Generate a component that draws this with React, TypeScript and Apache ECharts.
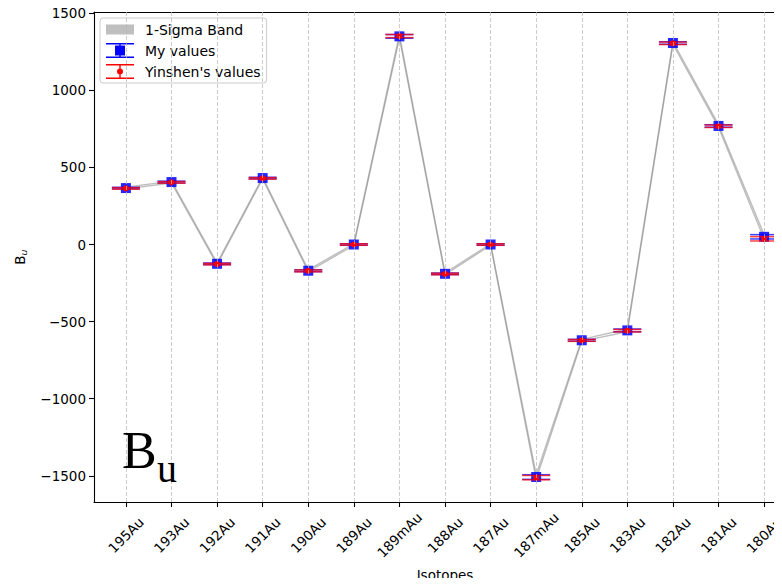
import React, { useEffect, useRef } from "react";
import * as echarts from "echarts";

const categories = [
  "195Au", "193Au", "192Au", "191Au", "190Au", "189Au", "189mAu", "188Au",
  "187Au", "187mAu", "185Au", "183Au", "182Au", "181Au", "180Au",
];
const myValues = [366, 405, -125, 431, -170, 0, 1350, -190, 0, -1508, -621, -557, 1307, 769, 50];
const myErrors = [5, 6, 5, 5, 6, 5, 12, 5, 5, 15, 6, 9, 8, 8, 14];
const yinValues = [364, 403, -127, 429, -171, 0, 1352, -191, 0, -1512, -622, -559, 1305, 767, 37];
const yinErrors = [5, 5, 5, 5, 6, 5, 10, 5, 5, 14, 6, 8, 8, 8, 14];
const yTicks = [-1500, -1000, -500, 0, 500, 1000, 1500];
const xTicks = categories.map((_, i) => i);

const FONT = "DejaVu Sans";
const FS = 13.5;

const bandIcon = "path://M0,0L0,0ZM28,15L28,15ZM0,2.5H28V12.5H0Z";
const myIcon =
  "path://M0,0H28V1.5H0ZM0,13.5H28V15H0ZM13.3,0H14.7V15H13.3ZM9,2.5H19V12.5H9Z";
const yinIcon =
  "path://M0,0H28V1.5H0ZM0,13.5H28V15H0ZM13.3,0H14.7V15H13.3ZM17,7.5A3,3 0 1 1 11,7.5A3,3 0 1 1 17,7.5Z";

function errorRenderer(kind: "square" | "circle", color: string, alpha: number) {
  return (params: any, api: any) => {
    const x = api.value(0);
    const y = api.value(1);
    const e = api.value(2);
    const c = api.coord([x, y]);
    const hi = api.coord([x, y + e]);
    const lo = api.coord([x, y - e]);
    const hw = 14;
    const ls = { stroke: color, lineWidth: 1.5, opacity: alpha };
    const marker =
      kind === "square"
        ? { type: "rect", shape: { x: c[0] - 5, y: c[1] - 5, width: 10, height: 10 }, style: { fill: color, opacity: 0.85 } }
        : { type: "circle", shape: { cx: c[0], cy: c[1], r: 3 }, style: { fill: color } };
    return {
      type: "group",
      children: [
        { type: "line", shape: { x1: c[0], y1: hi[1], x2: c[0], y2: lo[1] }, style: ls },
        { type: "line", shape: { x1: c[0] - hw, y1: hi[1], x2: c[0] + hw, y2: hi[1] }, style: ls },
        { type: "line", shape: { x1: c[0] - hw, y1: lo[1], x2: c[0] + hw, y2: lo[1] }, style: ls },
        marker,
      ],
    };
  };
}

export default function App() {
  const ref = useRef<HTMLDivElement>(null);
  useEffect(() => {
    if (!ref.current) return;
    const chart = echarts.init(ref.current, null, { renderer: "svg" });
    const bandLineStyle = { color: "#808080", width: 1.4, opacity: 0.5 };
    chart.setOption({
      animation: false,
      backgroundColor: "#ffffff",
      grid: { left: 94, top: 12, right: -14, bottom: 84, containLabel: false, outerBoundsMode: "none" },
      legend: {
        left: 100,
        top: 18,
        orient: "vertical",
        padding: [4, 6, 4, 6],
        itemGap: 6,
        itemWidth: 28,
        itemHeight: 15,
        borderColor: "#cccccc",
        borderWidth: 1,
        borderRadius: 3,
        backgroundColor: "rgba(255,255,255,0.85)",
        textStyle: { fontFamily: FONT, fontSize: 14, color: "#000", padding: [0, 0, 0, 6] },
        data: [
          { name: "1-Sigma Band", icon: bandIcon, itemStyle: { color: "#bfbfbf", borderWidth: 0 } },
          { name: "My values", icon: myIcon, itemStyle: { color: "#0000ff", borderWidth: 0 } },
          { name: "Yinshen's values", icon: yinIcon, itemStyle: { color: "#ff0000", borderWidth: 0 } },
        ],
      },
      xAxis: [
        {
          type: "value",
          min: -0.7,
          max: 14.7,
          name: "Isotopes",
          nameLocation: "middle",
          nameGap: 66,
          nameTextStyle: { fontFamily: FONT, fontSize: FS, color: "#000" },
          axisLine: { show: true, onZero: false, lineStyle: { color: "#000", width: 1.1 } },
          axisTick: { show: true, length: 5, customValues: xTicks, lineStyle: { color: "#000", width: 1.1 } },
          axisLabel: {
            customValues: xTicks,
            formatter: (v: number) => categories[Math.round(v)] ?? "",
            rotate: 45,
            align: "center",
            verticalAlign: "middle",
            margin: 33,
            fontFamily: FONT,
            fontSize: FS,
            color: "#000",
          },
          splitLine: { show: false },
        },
        {
          type: "value",
          position: "top",
          min: -0.7,
          max: 14.7,
          axisLine: { show: true, onZero: false, lineStyle: { color: "#000", width: 1.1 } },
          axisTick: { show: false },
          axisLabel: { show: false },
          splitLine: { show: false },
        },
      ],
      yAxis: {
        type: "value",
        min: -1670,
        max: 1508,
        name: "{a|B}{b|u}",
        nameLocation: "middle",
        nameRotate: 90,
        nameGap: 66,
        nameTextStyle: {
          color: "#000",
          rich: {
            a: { fontFamily: FONT, fontSize: FS, color: "#000" },
            b: { fontFamily: FONT, fontSize: 9.5, color: "#000", fontStyle: "italic", padding: [7, 0, 0, 0] },
          },
        },
        axisLine: { show: true, onZero: false, lineStyle: { color: "#000", width: 1.1 } },
        axisTick: { show: true, length: 5, customValues: yTicks, lineStyle: { color: "#000", width: 1.1 } },
        axisLabel: {
          customValues: yTicks,
          formatter: (v: number) => (v < 0 ? "\u2212" + Math.abs(v) : String(v)),
          fontFamily: FONT,
          fontSize: FS,
          color: "#000",
          margin: 8,
        },
        splitLine: { show: false },
      },
      graphic: [
        {
          type: "text",
          left: 122,
          top: 424,
          z: 10,
          style: { text: "B", font: "52px 'Liberation Serif'", fill: "#000" },
        },
        {
          type: "text",
          left: 157,
          top: 448,
          z: 10,
          style: { text: "u", font: "40px 'Liberation Serif'", fill: "#000" },
        },
      ],
      series: [
        {
          name: "1-Sigma Band",
          type: "line",
          symbol: "none",
          z: 1,
          data: myValues.map((v, i) => [i, v - myErrors[i]]),
          lineStyle: bandLineStyle,
          itemStyle: { color: "#bfbfbf" },
          markLine: {
            silent: true,
            symbol: ["none", "none"],
            label: { show: false },
            lineStyle: { color: "#b8b8b8", type: [4, 2], width: 0.9, opacity: 0.8 },
            data: categories.map((_, i) => ({ xAxis: i })),
          },
        },
        {
          name: "1-Sigma Band",
          type: "line",
          symbol: "none",
          z: 1,
          data: myValues.map((v, i) => [i, v + myErrors[i]]),
          lineStyle: bandLineStyle,
          itemStyle: { color: "#bfbfbf" },
        },
        {
          name: "My values",
          type: "custom",
          z: 3,
          itemStyle: { color: "#0000ff" },
          encode: { x: 0, y: 1 },
          data: myValues.map((v, i) => [i, v, myErrors[i]]),
          renderItem: errorRenderer("square", "#0000ff", 0.75),
        },
        {
          name: "Yinshen's values",
          type: "custom",
          z: 4,
          itemStyle: { color: "#ff0000" },
          encode: { x: 0, y: 1 },
          data: yinValues.map((v, i) => [i, v, yinErrors[i]]),
          renderItem: errorRenderer("circle", "#ff0000", 0.75),
        },
      ],
    });
    return () => chart.dispose();
  }, []);
  return <div ref={ref} style={{ width: 782, height: 586, margin: -8 }} />;
}
